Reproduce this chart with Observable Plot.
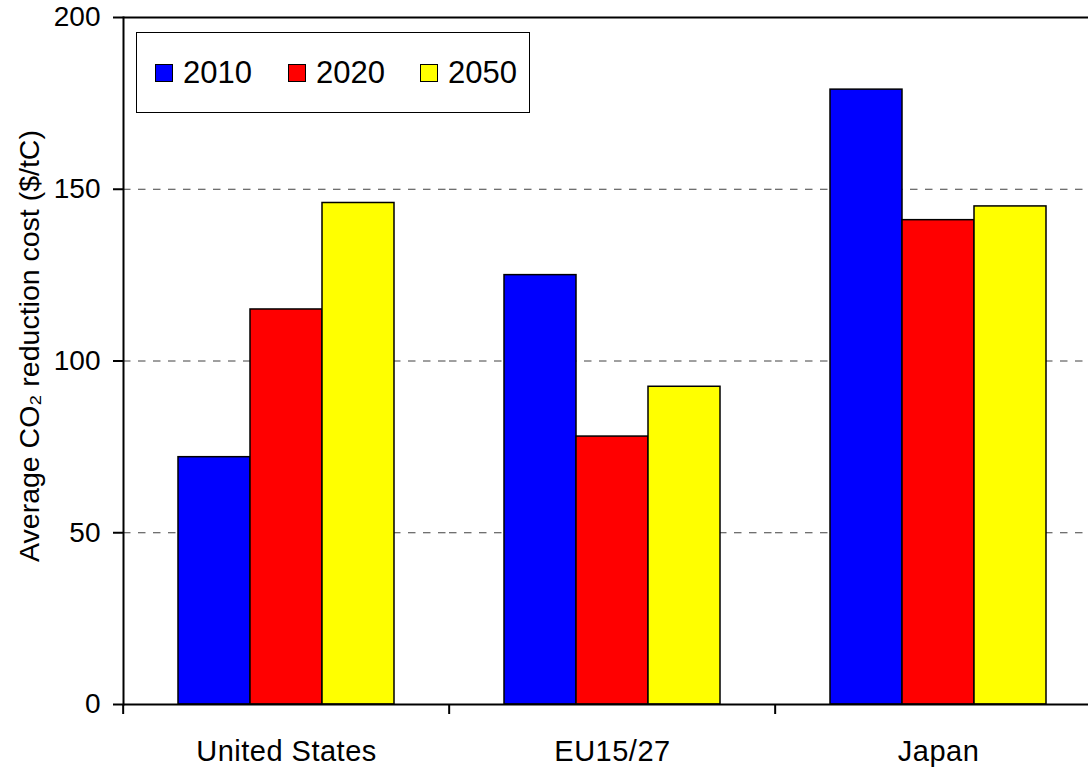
<!DOCTYPE html>
<html><head><meta charset="utf-8">
<script src="https://cdn.jsdelivr.net/npm/d3@7"></script>
<script src="https://cdn.jsdelivr.net/npm/@observablehq/plot@0.6"></script>
<style>
html,body{margin:0;padding:0;overflow:hidden;background:#fff;}
#wrap{position:relative;width:1088px;height:767px;overflow:hidden;font-family:"Liberation Sans",Arial,sans-serif;}
#wrap svg{max-width:none !important;}
#wrap svg g[aria-label="fx-axis tick label"]{font-size:29px;letter-spacing:0.5px;}
#legend{position:absolute;left:136px;top:32px;width:392px;height:79px;border:1.5px solid #000;background:#fff;}
.item{position:absolute;top:0;height:79px;display:flex;align-items:center;}
.sw{width:16px;height:16px;border:1.5px solid #000;margin-right:10px;}
.lab{font-size:31px;color:#000;line-height:1;}
</style></head><body><div id="wrap"></div>
<script>
const countries = ["United States", "EU15/27", "Japan"];
const years = ["2010", "2020", "2050"];
const v2010 = [72, 125, 179];
const v2020 = [115, 78, 141];
const v2050 = [146, 92.5, 145];
const colors = ["#0000ff", "#ff0000", "#ffff00"];
const yTicks = [0, 50, 100, 150, 200];
const gridValues = [50, 100, 150];
const yLabel = "Average CO₂ reduction cost ($/tC)";

const series = [v2010, v2020, v2050];
const data = countries.flatMap((c, i) => years.map((y, j) => ({country: c, year: y, value: series[j][i]})));

const W = 1102, ML = 122;
const step = (W - ML) / countries.length;

const plot = Plot.plot({
  width: W, height: 767,
  marginLeft: ML, marginRight: 0, marginTop: 17, marginBottom: 63,
  style: {fontFamily: "Liberation Sans, Arial, sans-serif", fontSize: "28px", background: "white", color: "#000", maxWidth: "none"},
  fx: {domain: countries, padding: 0, label: null},
  x: {domain: years, paddingInner: 0, paddingOuter: 0.735, axis: null},
  y: {domain: [0, 200]},
  color: {domain: years, range: colors},
  marks: [
    Plot.ruleY(gridValues, {stroke: "#404040", strokeWidth: 1, strokeDasharray: "7.5,7.5"}),
    Plot.barY(data, {fx: "country", x: "year", y: "value", fill: "year", stroke: "#000", strokeWidth: 1.5}),
    Plot.ruleY([0, 200], {stroke: "#000", strokeWidth: 2}),
    Plot.frame({anchor: "left", facetAnchor: "left", stroke: "#000", strokeWidth: 2}),
    Plot.axisY(yTicks, {tickSize: 10, tickFormat: () => "", strokeWidth: 2, label: null}),
    Plot.text(yTicks, {y: d => d, frameAnchor: "left", facetAnchor: "left", dx: -23, textAnchor: "end",
      fontSize: 28, fill: "#000"}),
    Plot.text([yLabel], {frameAnchor: "left", facetAnchor: "left", rotate: -90, lineAnchor: "top",
      textAnchor: "middle", dx: -105, dy: -15, fontSize: 28.5, fill: "#000"}),
    Plot.axisFx({anchor: "bottom", tickSize: 0, tickPadding: 36, fontSize: 29, label: null}),
    Plot.axisFx({anchor: "bottom", tickSize: 10, tickFormat: () => "", dx: -step / 2, strokeWidth: 2, label: null})
  ]
});

const wrap = document.getElementById("wrap");
wrap.appendChild(plot);

const legend = document.createElement("div");
legend.id = "legend";
const lefts = [18, 151, 283];
years.forEach((y, j) => {
  const it = document.createElement("div");
  it.className = "item";
  it.style.left = lefts[j] + "px";
  const sw = document.createElement("div");
  sw.className = "sw";
  sw.style.background = colors[j];
  const lab = document.createElement("span");
  lab.className = "lab";
  lab.textContent = y;
  it.appendChild(sw); it.appendChild(lab);
  legend.appendChild(it);
});
wrap.appendChild(legend);
</script></body></html>
